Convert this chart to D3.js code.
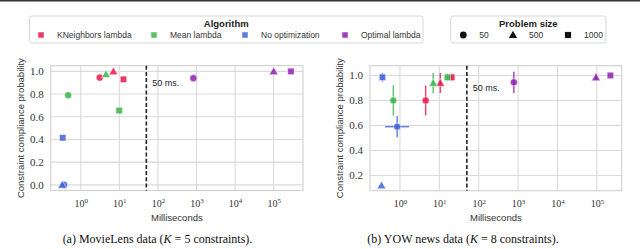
<!DOCTYPE html>
<html>
<head>
<meta charset="utf-8">
<script src="https://cdn.jsdelivr.net/npm/d3@7"></script>
<style>
  body { margin: 0; background: #fff; }
  svg { display: block; }
</style>
</head>
<body>
<div id="chart"></div>
<script>
// categories
var algorithms = ["KNeighbors lambda", "Mean lambda", "No optimization", "Optimal lambda"];
var algoColors = ["#e6194b", "#3cb44b", "#4363d8", "#911eb4"];
var problemSizes = ["50", "500", "1000"];
var xTickValues = [1, 10, 100, 1000, 10000, 100000];
var limitMs = 50;

// (a) MovieLens, rows = algorithm, columns = problem size
var movieMs = [[3.1, 7.0, 12.8], [0.47, 4.5, 9.9], [0.37, 0.33, 0.34], [830, 100000, 280000]];
var movieProb = [[0.945, 1.0, 0.93], [0.79, 0.975, 0.655], [0.0, 0.0, 0.415], [0.94, 1.0, 1.0]];
var movieErr = [[0, 0, 0], [0, 0, 0], [0, 0, 0], [0, 0, 0]];

// (b) YOW news
var yowMs = [[4.5, 10.6, 20.6], [0.68, 7.0, 16], [0.85, 0.34, 0.36], [780, 95000, 220000]];
var yowProb = [[0.8, 0.94, 0.985], [0.8, 0.94, 0.985], [0.59, 0.12, 0.985], [0.945, 0.985, 1.0]];
var yowErr = [[0.12, 0.08, 0.03], [0.12, 0.08, 0.03], [0.085, 0, 0.035], [0.085, 0.03, 0]];
var yowMsLo = [[null, null, null], [null, null, null], [0.42, null, null], [null, null, null]];
var yowMsHi = [[null, null, null], [null, null, null], [1.7, null, null], [null, null, null]];

var width = 640, height = 249;
var sansFont = "'Liberation Sans', Arial, sans-serif";
var serifFont = "'Liberation Serif', 'Times New Roman', serif";

var svg = d3.select("#chart").append("svg")
    .attr("width", width)
    .attr("height", height);

// thin dark rule at the very top
svg.append("rect")
    .attr("x", 0).attr("y", 0)
    .attr("width", width).attr("height", 1.5)
    .style("fill", "#333");

var shapes = [d3.symbolCircle, d3.symbolTriangle, d3.symbolSquare];
var shapeSizes = [40, 34, 42];

function drawPanel(cfg) {
    var g = svg.append("g");
    var x = d3.scaleLog().domain(cfg.xDomain).range([cfg.left, cfg.right]);
    var y = d3.scaleLinear().domain(cfg.yDomain).range([cfg.bottom, cfg.top]);

    // grid
    g.selectAll(".vgrid").data(xTickValues).enter().append("line")
        .attr("x1", function (d) { return x(d); })
        .attr("x2", function (d) { return x(d); })
        .attr("y1", cfg.top).attr("y2", cfg.bottom)
        .style("stroke", "#dadada").style("stroke-width", 1.1);
    g.selectAll(".hgrid").data(cfg.yTicks).enter().append("line")
        .attr("x1", cfg.left).attr("x2", cfg.right)
        .attr("y1", function (d) { return y(d); })
        .attr("y2", function (d) { return y(d); })
        .style("stroke", "#dadada").style("stroke-width", 1.1);

    // frame
    g.append("rect")
        .attr("x", cfg.left).attr("y", cfg.top)
        .attr("width", cfg.right - cfg.left).attr("height", cfg.bottom - cfg.top)
        .style("fill", "none").style("stroke", "#d0d0d0").style("stroke-width", 1.1);

    // y axis labels
    var yAxis = d3.axisLeft(y).tickValues(cfg.yTicks).tickSize(0).tickPadding(7)
        .tickFormat(d3.format(".1f"));
    var ya = g.append("g").attr("transform", "translate(" + cfg.left + ",0)").call(yAxis);
    ya.select(".domain").remove();
    ya.selectAll("text").style("font-family", serifFont).style("font-size", "11px").style("fill", "#333");

    // x axis labels with superscript exponents
    var xAxis = d3.axisBottom(x).tickValues(xTickValues).tickSize(0).tickPadding(9)
        .tickFormat(function (d) { return "10"; });
    var xa = g.append("g").attr("transform", "translate(0," + cfg.bottom + ")").call(xAxis);
    xa.select(".domain").remove();
    xa.selectAll("text")
        .style("font-family", serifFont).style("font-size", "10px").style("fill", "#333")
        .each(function (d) {
            var t = d3.select(this);
            t.text("");
            t.append("tspan").text("10");
            t.append("tspan").attr("dy", "-0.45em").style("font-size", "7px")
                .text(Math.round(Math.log10(d)));
        });

    // axis titles
    g.append("text")
        .attr("x", (cfg.left + cfg.right) / 2).attr("y", cfg.bottom + 30)
        .attr("text-anchor", "middle")
        .style("font-family", sansFont).style("font-size", "9.5px").style("fill", "#333")
        .text("Milliseconds");
    g.append("text")
        .attr("transform", "translate(" + (cfg.left - 27) + "," + ((cfg.top + cfg.bottom) / 2) + ") rotate(-90)")
        .attr("text-anchor", "middle")
        .style("font-family", sansFont).style("font-size", "9.5px").style("fill", "#333")
        .text("Constraint compliance probability");

    // 50 ms limit
    g.append("line")
        .attr("x1", x(limitMs)).attr("x2", x(limitMs))
        .attr("y1", cfg.top).attr("y2", cfg.bottom)
        .style("stroke", "#222").style("stroke-width", 1.6)
        .style("stroke-dasharray", "4,2.2");
    g.append("text")
        .attr("x", x(limitMs) + 6).attr("y", y(0.9)).attr("dy", "0.35em")
        .style("font-family", sansFont).style("font-size", "9px").style("fill", "#222")
        .text("50 ms.");

    // points
    var pts = [];
    algorithms.forEach(function (a, i) {
        problemSizes.forEach(function (s, j) {
            pts.push({
                algo: i, size: j,
                ms: cfg.ms[i][j], p: cfg.prob[i][j], e: cfg.err[i][j],
                lo: cfg.msLo ? cfg.msLo[i][j] : null,
                hi: cfg.msHi ? cfg.msHi[i][j] : null
            });
        });
    });

    var errG = g.append("g");
    errG.selectAll(".ey").data(pts.filter(function (d) { return d.e > 0; })).enter().append("line")
        .attr("x1", function (d) { return x(d.ms); })
        .attr("x2", function (d) { return x(d.ms); })
        .attr("y1", function (d) { return y(d.p - d.e); })
        .attr("y2", function (d) { return y(d.p + d.e); })
        .style("stroke", function (d) { return algoColors[d.algo]; })
        .style("stroke-opacity", 0.8).style("stroke-width", 1.5);
    errG.selectAll(".ex").data(pts.filter(function (d) { return d.lo !== null; })).enter().append("line")
        .attr("x1", function (d) { return x(d.lo); })
        .attr("x2", function (d) { return x(d.hi); })
        .attr("y1", function (d) { return y(d.p); })
        .attr("y2", function (d) { return y(d.p); })
        .style("stroke", function (d) { return algoColors[d.algo]; })
        .style("stroke-opacity", 0.8).style("stroke-width", 1.5);

    g.selectAll(".pt").data(pts).enter().append("path")
        .attr("transform", function (d) {
            var dy = d.size === 1 ? 0.8 : 0;
            return "translate(" + x(d.ms) + "," + (y(d.p) + dy) + ")";
        })
        .attr("d", function (d) { return d3.symbol().type(shapes[d.size]).size(shapeSizes[d.size])(); })
        .style("fill", function (d) { return algoColors[d.algo]; })
        .style("fill-opacity", 0.85)
        .style("stroke", "#fff").style("stroke-opacity", 0.5).style("stroke-width", 1);

    // caption
    var cap = svg.append("text")
        .attr("x", cfg.captionX).attr("y", 243)
        .attr("text-anchor", "middle")
        .style("font-family", serifFont).style("font-size", "12px").style("fill", "#111");
    cap.append("tspan").text(cfg.captionA);
    cap.append("tspan").style("font-style", "italic").text("K");
    cap.append("tspan").text(cfg.captionB);
}

drawPanel({
    left: 50.7, right: 303, top: 65.7, bottom: 190.5,
    xDomain: [Math.pow(10, -0.78), Math.pow(10, 5.76)],
    yDomain: [-0.05, 1.05],
    yTicks: [0, 0.2, 0.4, 0.6, 0.8, 1.0],
    ms: movieMs, prob: movieProb, err: movieErr,
    captionX: 157.5,
    captionA: "(a) MovieLens data (", captionB: " = 5 constraints)."
});

drawPanel({
    left: 370, right: 621.7, top: 65.7, bottom: 190.7,
    xDomain: [Math.pow(10, -0.76), Math.pow(10, 5.63)],
    yDomain: [0.078, 1.078],
    yTicks: [0.2, 0.4, 0.6, 0.8, 1.0],
    ms: yowMs, prob: yowProb, err: yowErr, msLo: yowMsLo, msHi: yowMsHi,
    captionX: 463,
    captionA: "(b) YOW news data (", captionB: " = 8 constraints)."
});

// legends
function legendBox(x0, x1, title) {
    var g = svg.append("g");
    g.append("rect")
        .attr("x", x0).attr("y", 16).attr("width", x1 - x0).attr("height", 27)
        .attr("rx", 2.5)
        .style("fill", "#fff").style("stroke", "#d6d6d6").style("stroke-width", 1);
    g.append("text")
        .attr("x", (x0 + x1) / 2).attr("y", 27)
        .attr("text-anchor", "middle")
        .style("font-family", sansFont).style("font-size", "9.5px").style("font-weight", "bold").style("fill", "#222")
        .text(title);
    return g;
}

var algoX = [41, 154, 245, 345];
var lg1 = legendBox(29.5, 423, "Algorithm");
lg1.selectAll(".m").data(algorithms).enter().append("rect")
    .attr("x", function (d, i) { return algoX[i] - 3; })
    .attr("y", 32)
    .attr("width", 6).attr("height", 6)
    .style("fill", function (d, i) { return algoColors[i]; })
    .style("fill-opacity", 0.85)
    .style("stroke", "#fff").style("stroke-opacity", 0.5);
lg1.selectAll(".t").data(algorithms).enter().append("text")
    .attr("x", function (d, i) { return algoX[i] + 16; })
    .attr("y", 38)
    .style("font-family", sansFont).style("font-size", "8.5px").style("fill", "#333")
    .text(function (d) { return d; });

var sizeX = [463.3, 513, 568];
var lg2 = legendBox(450.7, 606, "Problem size");
lg2.selectAll(".m").data(problemSizes).enter().append("path")
    .attr("transform", function (d, i) { return "translate(" + sizeX[i] + "," + (i === 1 ? 35.6 : 35) + ")"; })
    .attr("d", function (d, i) { return d3.symbol().type(shapes[i]).size(shapeSizes[i] - 4)(); })
    .style("fill", "#111");
lg2.selectAll(".t").data(problemSizes).enter().append("text")
    .attr("x", function (d, i) { return sizeX[i] + 16; })
    .attr("y", 38)
    .style("font-family", sansFont).style("font-size", "8.5px").style("fill", "#333")
    .text(function (d) { return d; });
</script>
</body>
</html>
